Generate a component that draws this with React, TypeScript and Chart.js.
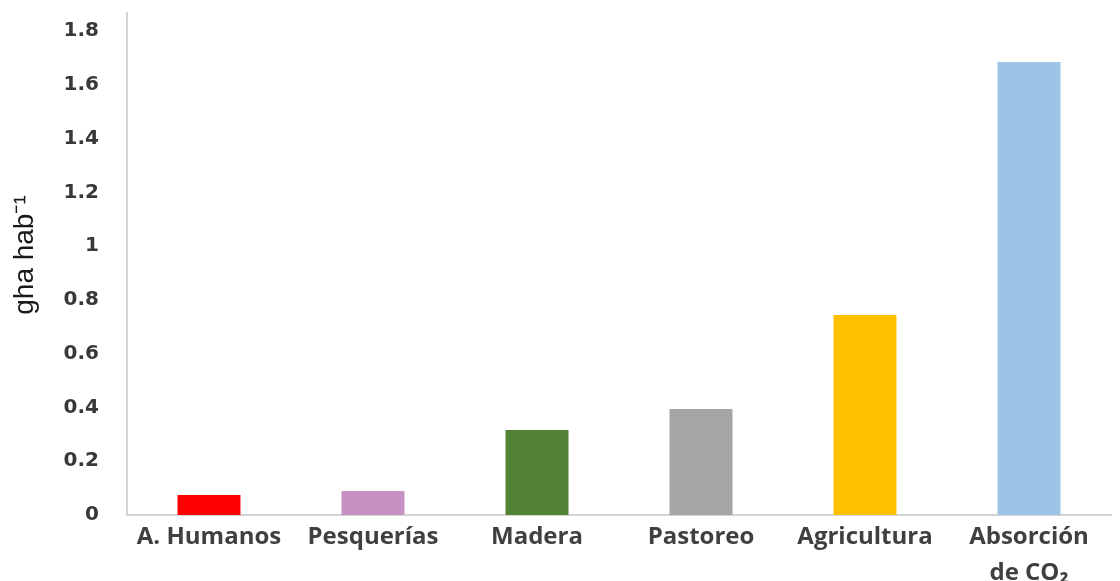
import React, { useEffect, useRef } from "react";
import { Chart, registerables } from "chart.js";

Chart.register(...registerables);

const categories: (string | string[])[] = [
  "A. Humanos",
  "Pesquerías",
  "Madera",
  "Pastoreo",
  "Agricultura",
  ["Absorción", "de CO₂"],
];
const values: number[] = [0.074, 0.089, 0.316, 0.394, 0.744, 1.685];
const barColors: string[] = ["#FF0000", "#C792C3", "#538135", "#A5A5A5", "#FFC000", "#9DC3E6"];
const yTickValues: number[] = [0, 0.2, 0.4, 0.6, 0.8, 1, 1.2, 1.4, 1.6, 1.8];
const yTitle = "gha hab⁻¹";
const yMin = 0;
const yMax = 1.867;

const yTitlePlugin = {
  id: "yTitlePlugin",
  afterDraw(chart: any) {
    const ctx = chart.ctx;
    const area = chart.chartArea;
    ctx.save();
    ctx.translate(25, (area.top + area.bottom) / 2 - 9);
    ctx.rotate(-Math.PI / 2);
    ctx.textAlign = "center";
    ctx.textBaseline = "middle";
    ctx.fillStyle = "#1a1a1a";
    ctx.font = "28px 'Liberation Sans', Arial, sans-serif";
    ctx.fillText(yTitle, 0, 0);
    ctx.restore();
  },
};

export default function App() {
  const canvasRef = useRef<HTMLCanvasElement | null>(null);

  useEffect(() => {
    if (!canvasRef.current) return;
    const chart = new Chart(canvasRef.current, {
      type: "bar",
      data: {
        labels: categories,
        datasets: [
          {
            data: values,
            backgroundColor: barColors,
            borderWidth: 0,
            barPercentage: 0.384,
            categoryPercentage: 1,
          },
        ],
      },
      plugins: [yTitlePlugin],
      options: {
        animation: false,
        responsive: true,
        maintainAspectRatio: false,
        layout: { padding: { top: 13, right: 9, bottom: 0, left: 0 } },
        plugins: {
          legend: { display: false },
          tooltip: { enabled: false },
        },
        scales: {
          x: {
            grid: { display: false, drawTicks: false },
            border: { display: true, color: "#d4d4d4", width: 2 },
            ticks: {
              color: "#404040",
              padding: 4,
              maxRotation: 0,
              autoSkip: false,
              font: { family: "'Open Sans', sans-serif", size: 24, weight: "bold", lineHeight: 1.5 },
            },
            afterFit: (scale: any) => {
              scale.height = 66;
              scale.paddingLeft = 0;
              scale.paddingRight = 0;
            },
          },
          y: {
            min: yMin,
            max: yMax,
            grid: { display: false, drawTicks: false },
            border: { display: true, color: "#d4d4d4", width: 2 },
            ticks: {
              includeBounds: false,
              color: "#383838",
              padding: 28,
              font: { family: "'DejaVu Sans', sans-serif", size: 20, weight: "bold" },
              callback: (v: any) => String(Math.round(Number(v) * 10) / 10),
            },
            afterBuildTicks: (scale: any) => {
              scale.ticks = yTickValues.map((v) => ({ value: v }));
            },
            afterFit: (scale: any) => {
              scale.width = 127;
              scale.paddingTop = 0;
              scale.paddingBottom = 0;
            },
          },
        },
      },
    });
    return () => chart.destroy();
  }, []);

  return (
    <div style={{ position: "fixed", left: 0, top: 0, width: 1120, height: 581, background: "#fff" }}>
      <canvas ref={canvasRef} />
    </div>
  );
}
